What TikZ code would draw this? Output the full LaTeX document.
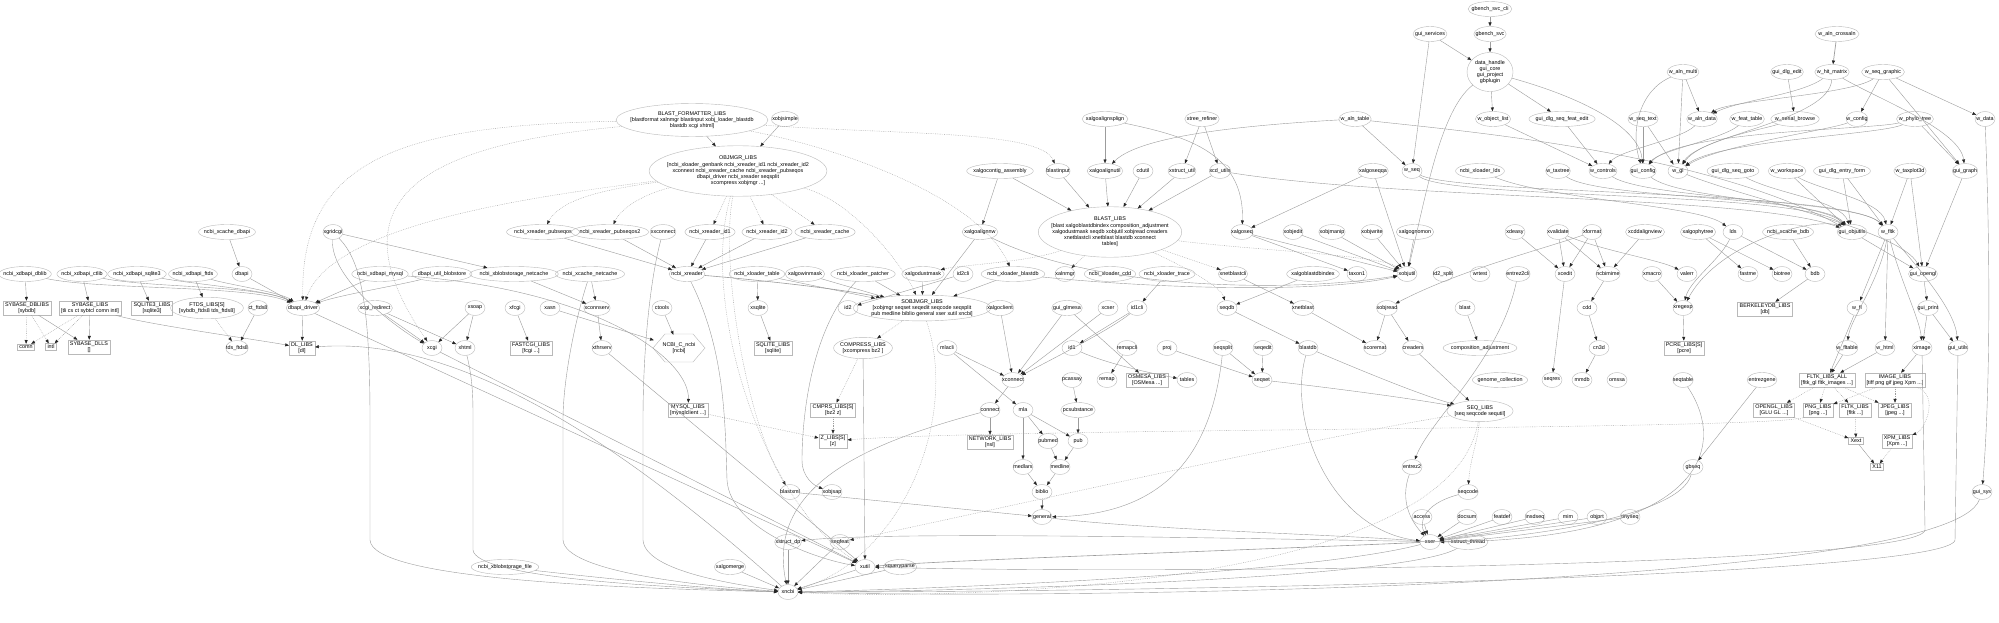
\documentclass[tikz,border=0pt]{standalone}
\usepackage{fontspec}
\setmainfont{Liberation Sans}
\usetikzlibrary{shapes.geometric,arrows.meta}
\begin{document}
\begin{tikzpicture}[x=1pt,y=-1pt,
  font=\fontsize{5.4}{6.2}\selectfont,
  ov/.style={ellipse,draw=gray!55,line width=0.4pt,inner xsep=-3pt,inner ysep=0pt,minimum height=15pt,minimum width=20pt},
  grp/.style={ellipse,draw=gray!55,line width=0.4pt,align=center,inner xsep=-2pt,inner ysep=2pt},
  bigg/.style={ellipse,draw=gray!55,line width=0.4pt,align=center,inner xsep=-8pt,inner ysep=3pt},
  bxx/.style={rectangle,draw=gray!55,line width=0.4pt,align=center,inner xsep=2pt,inner ysep=1.5pt},
  edg/.style={draw=gray!78,line width=0.4pt,-{Triangle[length=3.8pt,width=3pt,color=black!85]}},
  dte/.style={edg,dash pattern=on 0.7pt off 1.1pt},
]
\useasboundingbox[fill=white] (0,0) rectangle (1999,623);
% ---------- top ----------
\node[ov] (gsc) at (1490,9) {gbench\_svc\_cli};
\node[ov] (gsvc) at (1490,34) {gbench\_svc};
\node[ov] (gserv) at (1430,34) {gui\_services};
\node[grp,minimum width=46pt] (dh) at (1490,72) {data\_handle\\gui\_core\\gui\_project\\gbplugin};
\node[bigg] (bfl) at (692,120) {BLAST\_FORMATTER\_LIBS\\{}[blastformat xalnmgr blastinput xobj\_loader\_blastdb\\blastdb xcgi xhtml]};
\node[ov] (xos) at (785,119) {xobjsimple};
\node[bigg] (om) at (738,171) {OBJMGR\_LIBS\\{}[ncbi\_xloader\_genbank ncbi\_xreader\_id1 ncbi\_xreader\_id2\\xconnext ncbi\_xreader\_cache ncbi\_xreader\_pubseqos\\dbapi\_driver ncbi\_xreader seqsplit\\xcompress xobjmgr ...]};
\node[ov] (xaas) at (1105,119) {xalgoalignsplign};
\node[ov] (xtr) at (1202,119) {xtree\_refiner};
\node[ov] (walt) at (1355,119) {w\_aln\_table};
\node[ov] (wol) at (1493,119) {w\_object\_list};
\node[ov] (gdsfe) at (1562,119) {gui\_dlg\_seq\_feat\_edit};
\node[ov] (wac) at (1837,34) {w\_aln\_crossaln};
\node[ov] (wam) at (1683,72) {w\_aln\_multi};
\node[ov] (gde) at (1787,72) {gui\_dlg\_edit};
\node[ov] (whm) at (1832,72) {w\_hit\_matrix};
\node[ov] (wsg) at (1883,72) {w\_seq\_graphic};
\node[ov] (wst) at (1643,119) {w\_seq\_text};
\node[ov] (wad) at (1702,119) {w\_aln\_data};
\node[ov] (wft) at (1747,119) {w\_feat\_table};
\node[ov] (wsb) at (1795,119) {w\_serial\_browse};
\node[ov] (wcf) at (1857,119) {w\_config};
\node[ov] (wpt) at (1915,119) {w\_phylo\_tree};
\node[ov] (wdt) at (1985,119) {w\_data};
% ---------- row 171 ----------
\node[ov] (xaca) at (1000,171) {xalgocontig\_assembly};
\node[ov] (bin) at (1058,171) {blastinput};
\node[ov] (xaau) at (1105,171) {xalgoalignutil};
\node[ov] (cdu) at (1143,171) {cdutil};
\node[ov] (xsu) at (1182,171) {xstruct\_util};
\node[ov] (xcdu) at (1220,171) {xcd\_utils};
\node[ov] (xasq) at (1373,171) {xalgoseqqa};
\node[ov] (wseq) at (1412,171) {w\_seq};
\node[ov] (xll) at (1480,171) {ncbi\_xloader\_lds};
\node[ov] (wtt) at (1558,171) {w\_taxtree};
\node[ov] (wct) at (1603,171) {w\_controls};
\node[ov] (gcf) at (1643,171) {gui\_config};
\node[ov] (wgl) at (1678,171) {w\_gl};
\node[ov] (gdsg) at (1733,171) {gui\_dlg\_seq\_goto};
\node[ov] (wws) at (1787,171) {w\_workspace};
\node[ov] (gdef) at (1842,171) {gui\_dlg\_entry\_form};
\node[ov] (wtp) at (1910,171) {w\_taxplot3d};
\node[ov] (ggr) at (1965,171) {gui\_graph};
% ---------- row 232 ----------
\node[ov] (xcd) at (227,232) {ncbi\_xcache\_dbapi};
\node[ov] (xgc) at (333,232) {xgridcgi};
\node[ov] (xrp) at (543,232) {ncbi\_xreader\_pubseqos};
\node[ov] (xrp2) at (610,232) {ncbi\_xreader\_pubseqos2};
\node[ov] (xxc) at (663,232) {xxconnect};
\node[ov] (xri1) at (710,232) {ncbi\_xreader\_id1};
\node[ov] (xri2) at (767,232) {ncbi\_xreader\_id2};
\node[ov] (xrc) at (825,232) {ncbi\_xreader\_cache};
\node[ov] (xanw) at (980,232) {xalgoalignnw};
\node[bigg] (bl) at (1110,232) {BLAST\_LIBS\\{}[blast xalgoblastdbindex composition\_adjustment\\xalgodustmask seqdb xobjutil xobjread creaders\\xnetblastcli xnetblast blastdb xconnect\\tables]};
\node[ov] (xaseq) at (1242,232) {xalgoseq};
\node[ov] (xoe) at (1293,232) {xobjedit};
\node[ov] (xom) at (1332,232) {xobjmanip};
\node[ov] (xow) at (1372,232) {xobjwrite};
\node[ov] (xagn) at (1415,232) {xalgognomon};
\node[ov] (xdeasy) at (1515,232) {xdeasy};
\node[ov] (xval) at (1558,232) {xvalidate};
\node[ov] (xfmt) at (1592,232) {xformat};
\node[ov] (xaln) at (1645,232) {xcddalignview};
\node[ov] (xphy) at (1698,232) {xalgophytree};
\node[ov] (lds) at (1733,232) {lds};
\node[ov] (xcb) at (1788,232) {ncbi\_xcache\_bdb};
\node[ov] (gou) at (1852,232) {gui\_objutils};
\node[ov] (wfltk) at (1888,232) {w\_fltk};
% ---------- row 274 ----------
\node[ov] (dblib) at (25,274) {ncbi\_xdbapi\_dblib};
\node[ov] (ctlib) at (82,274) {ncbi\_xdbapi\_ctlib};
\node[ov] (sql3) at (137,274) {ncbi\_xdbapi\_sqlite3};
\node[ov] (ftds) at (193,274) {ncbi\_xdbapi\_ftds};
\node[ov] (dbapi) at (242,274) {dbapi};
\node[ov] (mysql) at (380,274) {ncbi\_xdbapi\_mysql};
\node[ov] (dub) at (442,274) {dbapi\_util\_blobstore};
\node[ov] (xbsn) at (514,274) {ncbi\_xblobstorage\_netcache};
\node[ov] (xcnc) at (590,274) {ncbi\_xcache\_netcache};
\node[ov] (xrd) at (687,274) {ncbi\_xreader};
\node[ov] (xlt) at (757,274) {ncbi\_xloader\_table};
\node[ov] (xawm) at (805,274) {xalgowinmask};
\node[ov] (xlp) at (863,274) {ncbi\_xloader\_patcher};
\node[ov] (xadm) at (923,274) {xalgodustmask};
\node[ov] (id2cli) at (963,274) {id2cli};
\node[ov] (xlb) at (1013,274) {ncbi\_xloader\_blastdb};
\node[ov] (xam) at (1065,274) {xalnmgr};
\node[ov] (xlc) at (1110,274) {ncbi\_xloader\_cdd};
\node[ov] (xltr) at (1167,274) {ncbi\_xloader\_trace};
\node[ov] (xnbc) at (1233,274) {xnetblastcli};
\node[ov] (xabi) at (1313,274) {xalgoblastdbindex};
\node[ov] (tax1) at (1357,274) {taxon1};
\node[ov] (xou) at (1407,274) {xobjutil};
\node[ov] (id2s) at (1443,274) {id2\_split};
\node[ov] (wrt) at (1480,274) {wrtest};
\node[ov] (e2c) at (1518,274) {entrez2cli};
\node[ov] (xcelit) at (1565,274) {xcedit};
\node[ov] (xdt) at (1608,274) {ncbimime};
\node[ov] (xmac) at (1652,274) {xmacro};
\node[ov] (valerr) at (1687,274) {valerr};
\node[ov] (fastme) at (1748,274) {fastme};
\node[ov] (biotree) at (1782,274) {biotree};
\node[ov] (bdb) at (1815,274) {bdb};
\node[ov] (gogl) at (1923,274) {gui\_opengl};
% ---------- row 308 ----------
\node[bxx] (sybd) at (27,308) {SYBASE\_DBLIBS\\{}[sybdb]};
\node[bxx] (sybl) at (90,308) {SYBASE\_LIBS\\{}[tli cs ct sybtcl comn intl]};
\node[bxx] (sq3l) at (152,308) {SQLITE3\_LIBS\\{}[sqlite3]};
\node[grp] (ftdsl) at (207,308) {FTDS\_LIBS[S]\\{}[sybdb\_ftds8 tds\_ftds8]};
\node[ov] (ctf8) at (258,308) {ct\_ftds8};
\node[ov] (dbd) at (303,308) {dbapi\_driver};
\node[ov] (xcr) at (375,308) {xcgi\_redirect};
\node[ov] (xsoap) at (475,308) {xsoap};
\node[ov] (xfcgi) at (515,308) {xfcgi};
\node[ov] (xasn) at (550,308) {xasn};
\node[ov] (xconnserv) at (597,308) {xconnserv};
\node[ov] (ctools) at (662,308) {ctools};
\node[ov] (xsqlite) at (758,308) {xsqlite};
\node[ov] (id2) at (848,308) {id2};
\node[grp,inner ysep=0.5pt] (som) at (922,308) {SOBJMGR\_LIBS\\{}[xobjmgr seqset seqedit seqcode seqsplit\\pub medline biblio general xser xutil xncbi]};
\node[ov] (xapient) at (1000,308) {xalgoclient};
\node[ov] (gglm) at (1067,308) {gui\_glmesa};
\node[ov] (xcser) at (1108,308) {xcser};
\node[ov] (id1cli) at (1137,308) {id1cli};
\node[ov] (seqdb) at (1227,308) {seqdb};
\node[ov] (xnb) at (1303,308) {xnetblast};
\node[ov] (xor) at (1387,308) {xobjread};
\node[ov] (blast) at (1465,308) {blast};
\node[ov] (cdd) at (1587,308) {cdd};
\node[ov] (xre) at (1683,308) {xregexp};
\node[bxx] (bdbl) at (1765,309) {BERKELEYDB\_LIBS\\{}[db]};
\node[ov] (wfl) at (1857,308) {w\_fl};
\node[ov] (gprint) at (1928,308) {gui\_print};
% ---------- row 348 ----------
\node[bxx] (comn) at (26,347) {comn};
\node[bxx] (intl) at (51,347) {intl};
\node[bxx] (sybdlls) at (89,347) {SYBASE\_DLLS\\{}[]};
\node[ov] (tdsf8) at (237,348) {tds\_ftds8};
\node[bxx] (dll) at (302,348) {DL\_LIBS\\{}[dl]};
\node[ov] (xcgi) at (432,348) {xcgi};
\node[ov] (xhtml) at (465,348) {xhtml};
\node[bxx] (fcgil) at (531,348) {FASTCGI\_LIBS\\{}[fcgi ...]};
\node[ov] (xthr) at (602,348) {xthrserv};
\node[align=center,inner sep=0pt,minimum width=50pt,minimum height=26pt] (ncbic) at (679,348) {NCBI\_C\_ncbi\\{}[ncbi]};
\draw[draw=gray!55,line width=0.4pt] (653,348) -- (665,334) -- (693,334) -- (705,348) -- (693,362) -- (665,362) -- cycle;
\node[bxx] (sqlitel) at (773,348) {SQLITE\_LIBS\\{}[sqlite]};
\node[grp] (compl) at (863,348) {COMPRESS\_LIBS\\{}[xcompress bz2 ]};
\node[ov] (mlacli) at (947,348) {mlacli};
\node[ov] (id1) at (1072,348) {id1};
\node[ov] (remapcli) at (1127,348) {remapcli};
\node[ov] (proj) at (1167,348) {proj};
\node[ov] (seqsplit) at (1223,348) {seqsplit};
\node[ov] (seqedit) at (1263,348) {seqedit};
\node[ov] (blastdb) at (1308,348) {blastdb};
\node[ov] (scoremat) at (1375,348) {scoremat};
\node[ov] (creaders) at (1413,348) {creaders};
\node[ov] (compadj) at (1480,348) {composition\_adjustment};
\node[ov] (cn3d) at (1599,348) {cn3d};
\node[bxx] (pcrel) at (1684,348) {PCRE\_LIBS[S]\\{}[pcre]};
\node[ov] (wflt) at (1847,348) {w\_fltable};
\node[ov] (whtml) at (1885,348) {w\_html};
\node[ov] (ximage) at (1922,348) {ximage};
\node[ov] (gutils) at (1958,348) {gui\_utils};
% ---------- row 380 ----------
\node[ov] (xconnect) at (1013,380) {xconnect};
\node[ov] (pcassay) at (1072,380) {pcassay};
\node[ov] (remap) at (1107,380) {remap};
\node[bxx] (osmesal) at (1147,380) {OSMESA\_LIBS\\{}[OSMesa ...]};
\node[ov] (tables) at (1187,380) {tables};
\node[ov] (seqset) at (1262,380) {seqset};
\node[ov] (gencoll) at (1500,380) {genome\_collection};
\node[ov] (seqres) at (1552,380) {seqres};
\node[ov] (mmdb) at (1582,380) {mmdb};
\node[ov] (omssa) at (1617,380) {omssa};
\node[ov] (seqtable) at (1683,380) {seqtable};
\node[ov] (entrezgene) at (1762,380) {entrezgene};
\node[bxx] (fltkall) at (1827,380) {FLTK\_LIBS\_ALL\\{}[fltk\_gl fltk\_images ...]};
\node[bxx] (imagel) at (1895,380) {IMAGE\_LIBS\\{}[tiff png gif jpeg Xpm ...]};
% ---------- row 410 ----------
\node[bxx] (mysqll) at (688,410) {MYSQL\_LIBS\\{}[mysqlclient ...]};
\node[bxx] (cmprsl) at (833,410) {CMPRS\_LIBS[S]\\{}[bz2 z]};
\node[ov] (connect) at (990,410) {connect};
\node[ov] (mla) at (1023,410) {mla};
\node[ov] (pcsub) at (1078,410) {pcsubstance};
\node[grp] (seql) at (1480,411) {SEQ\_LIBS\\{}[seq seqcode sequtil]};
\node[bxx] (openglL) at (1774,410) {OPENGL\_LIBS\\{}[GLU GL ...]};
\node[bxx] (pngl) at (1818,410) {PNG\_LIBS\\{}[png ...]};
\node[bxx] (fltkl) at (1855,410) {FLTK\_LIBS\\{}[fltk ...]};
\node[bxx] (jpegl) at (1895,410) {JPEG\_LIBS\\{}[jpeg ...]};
% ---------- row 441 ----------
\node[bxx] (zlibs) at (833,441) {Z\_LIBS[S]\\{}[z]};
\node[bxx] (netl) at (990,442) {NETWORK\_LIBS\\{}[nsl]};
\node[ov] (pubmed) at (1048,441) {pubmed};
\node[ov] (pub) at (1078,441) {pub};
\node[bxx] (xext) at (1856,441) {Xext};
\node[bxx] (xpml) at (1897,441) {XPM\_LIBS\\{}[Xpm ...]};
% ---------- row 467 ----------
\node[ov] (medlars) at (1023,467) {medlars};
\node[ov] (medline) at (1060,467) {medline};
\node[ov] (entrez2) at (1412,467) {entrez2};
\node[ov] (gbseq) at (1693,467) {gbseq};
\node[bxx] (x11) at (1877,467) {X11};
% ---------- row 492 ----------
\node[ov] (blastxml) at (790,492) {blastxml};
\node[ov] (xobjsap) at (832,492) {xobjsap};
\node[ov] (biblio) at (1042,492) {biblio};
\node[ov] (seqcode) at (1468,492) {seqcode};
\node[ov] (gsys) at (1982,492) {gui\_sys};
% ---------- row 517 ----------
\node[ov] (general) at (1042,517) {general};
\node[ov] (access) at (1422,517) {access};
\node[ov] (docsum) at (1467,517) {docsum};
\node[ov] (featdef) at (1502,517) {featdef};
\node[ov] (insdseq) at (1535,517) {insdseq};
\node[ov] (mim) at (1568,517) {mim};
\node[ov] (objprt) at (1597,517) {objprt};
\node[ov] (tinyseq) at (1630,517) {tinyseq};
% ---------- rows 542-592 ----------
\node[ov] (xsdp) at (788,542) {xstruct\_dp};
\node[ov] (seqfeat) at (840,542) {seqfeat};
\node[ov] (xser) at (1430,542) {xser};
\node[ov] (xsth) at (1468,542) {xstruct\_thread};
\node[ov] (xbsf) at (505,567) {ncbi\_xblobstorage\_file};
\node[ov] (xamerge) at (730,567) {xalgomerge};
\node[ov] (xutil) at (865,567) {xutil};
\node[ov] (xqp) at (900,567) {xqueryparse};
\node[ov] (xncbi) at (788,592) {xncbi};
% ================= edges =================
\draw[edg] (gsc) -- (gsvc);
\draw[edg] (gsvc) -- (dh);
\draw[edg] (gserv) -- (dh);
\draw[edg] (gserv) -- (wseq);
\draw[edg] (dh) -- (wol);
\draw[edg] (dh) -- (gdsfe);
\draw[edg] (dh) .. controls (1590,100) and (1640,130) .. (gcf);
\draw[edg] (dh) .. controls (1440,110) and (1425,200) .. (xou);
\draw[edg] (bfl) -- (om);
\draw[edg] (xos) -- (om);
\draw[dte] (bfl) .. controls (900,135) and (1040,130) .. (bin);
\draw[dte] (bfl) .. controls (400,125) and (300,160) .. (dbd);
\draw[dte] (bfl) .. controls (420,145) and (330,200) .. (xcgi);
\draw[dte] (om) .. controls (600,190) and (560,200) .. (xrp);
\draw[dte] (om) .. controls (640,195) and (620,210) .. (xrp2);
\draw[dte] (om) -- (xri1);
\draw[dte] (om) -- (xri2);
\draw[dte] (om) -- (xrc);
\draw[dte] (om) .. controls (500,200) and (330,230) .. (dbd);
\draw[dte] (om) .. controls (850,200) and (900,260) .. (som);
\draw[dte] (bfl) .. controls (850,150) and (980,200) .. (xlb);
\draw[dte] (om) .. controls (720,260) and (745,420) .. (blastxml);
\draw[dte] (om) .. controls (700,300) and (760,500) .. (xutil);
\draw[edg] (xaas) -- (xaau);
\draw[edg] (xaas) .. controls (1180,135) and (1245,150) .. (xaseq);
\draw[edg] (xtr) -- (xsu);
\draw[edg] (xtr) -- (xcdu);
\draw[edg] (walt) -- (wseq);
\draw[edg] (walt) .. controls (1250,125) and (1140,135) .. (xaau);
\draw[edg] (walt) .. controls (1450,130) and (1700,150) .. (gou);
\draw[edg] (xaca) -- (bl);
\draw[edg] (xaca) -- (xanw);
\draw[edg] (bin) -- (bl);
\draw[edg] (xaau) -- (bl);
\draw[edg] (cdu) -- (bl);
\draw[edg] (xsu) -- (bl);
\draw[edg] (xcdu) -- (bl);
\draw[edg] (xcdu) .. controls (1400,200) and (1750,195) .. (gou);
\draw[edg] (xasq) -- (xou);
\draw[edg] (xasq) -- (xaseq);
\draw[edg] (wseq) .. controls (1450,200) and (1800,190) .. (gou);
\draw[edg] (wseq) .. controls (1460,195) and (1850,190) .. (wfltk);
\draw[edg] (xll) .. controls (1550,200) and (1700,205) .. (lds);
\draw[edg] (wol) -- (wct);
\draw[edg] (gdsfe) -- (wct);
\draw[edg] (wst) -- (gcf);
\draw[edg] (wst) -- (wgl);
\draw[edg] (wam) -- (wad);
\draw[edg] (wam) -- (wgl);
\draw[edg] (wam) .. controls (1640,90) and (1630,130) .. (gcf);
\draw[edg] (wad) .. controls (1680,140) and (1620,150) .. (wct);
\draw[edg] (wft) .. controls (1720,140) and (1660,150) .. (gcf);
\draw[edg] (gde) -- (wsb);
\draw[edg,line width=0.7pt] (wac) -- (whm);
\draw[edg] (whm) .. controls (1800,95) and (1740,100) .. (wad);
\draw[edg] (whm) .. controls (1880,100) and (1960,130) .. (ggr);
\draw[edg] (whm) .. controls (1830,120) and (1700,135) .. (wgl);
\draw[edg] (wsg) -- (wcf);
\draw[edg] (wsg) -- (wdt);
\draw[edg] (wsg) -- (ggr);
\draw[edg] (wsg) .. controls (1850,95) and (1730,100) .. (wad);
\draw[edg] (wpt) -- (ggr);
\draw[edg] (wpt) .. controls (1880,135) and (1720,140) .. (wgl);
\draw[edg] (wpt) .. controls (1870,130) and (1680,130) .. (gcf);
\draw[edg] (wsb) .. controls (1760,130) and (1700,140) .. (wgl);
\draw[edg] (wcf) .. controls (1830,130) and (1720,145) .. (wgl);
\draw[edg] (wtt) .. controls (1600,200) and (1820,195) .. (gou);
\draw[edg] (wct) .. controls (1650,200) and (1860,200) .. (wfltk);
\draw[edg] (gcf) .. controls (1680,200) and (1820,200) .. (gou);
\draw[edg] (wgl) .. controls (1750,200) and (1900,230) .. (gogl);
\draw[edg] (gdsg) .. controls (1780,195) and (1840,200) .. (gou);
\draw[edg] (wws) .. controls (1820,190) and (1880,200) .. (wfltk);
\draw[edg] (wws) -- (gou);
\draw[edg] (gdef) -- (gou);
\draw[edg] (gdef) -- (wfltk);
\draw[edg] (wtp) -- (wfltk);
\draw[edg] (wtp) -- (gogl);
\draw[edg] (ggr) -- (gogl);
\draw[edg] (wdt) .. controls (1992,300) and (1988,420) .. (gsys);
\draw[edg] (wfltk) -- (wfl);
\draw[edg] (wfltk) .. controls (1880,280) and (1850,320) .. (wflt);
\draw[edg] (wfltk) -- (whtml);
\draw[edg] (wfltk) .. controls (1900,280) and (1920,320) .. (ximage);
\draw[edg] (wfltk) .. controls (1920,270) and (1955,310) .. (gutils);
\draw[edg] (gou) -- (gogl);
\draw[edg] (gou) .. controls (1820,215) and (1720,240) .. (xre);
\draw[edg] (gogl) -- (gprint);
\draw[edg] (gprint) -- (gutils);
\draw[edg] (gprint) -- (ximage);
\draw[edg] (wfl) -- (fltkall);
\draw[edg] (wflt) -- (fltkall);
\draw[edg] (whtml) -- (fltkall);
\draw[edg] (ximage) -- (imagel);
\draw[dte] (fltkall) -- (openglL);
\draw[dte] (fltkall) -- (pngl);
\draw[dte] (fltkall) -- (fltkl);
\draw[dte] (fltkall) -- (jpegl);
\draw[dte] (imagel) -- (jpegl);
\draw[dte] (imagel) -- (pngl);
\draw[dte] (imagel) .. controls (1940,395) and (1925,430) .. (xpml);
\draw[dte] (fltkl) -- (xext);
\draw[dte] (openglL) -- (xext);
\draw[edg] (xext) -- (x11);
\draw[dte] (xpml) -- (x11);
\draw[dte] (pngl) .. controls (1780,430) and (1000,428) .. (zlibs);
% middle right
\draw[edg] (xcb) -- (bdb);
\draw[edg] (lds) -- (bdb);
\draw[edg] (lds) .. controls (1720,260) and (1690,280) .. (xre);
\draw[edg] (bdb) -- (bdbl);
\draw[edg] (xre) -- (pcrel);
\draw[edg] (xphy) -- (fastme);
\draw[edg] (xphy) -- (biotree);
\draw[edg] (xdeasy) -- (xcelit);
\draw[edg] (xval) -- (xcelit);
\draw[edg] (xval) -- (xdt);
\draw[edg] (xval) .. controls (1600,250) and (1660,260) .. (valerr);
\draw[edg] (xfmt) -- (xcelit);
\draw[edg] (xfmt) -- (xdt);
\draw[edg] (xaln) -- (xdt);
\draw[edg] (xfmt) .. controls (1540,250) and (1460,270) .. (xor);
\draw[edg] (xdt) -- (cdd);
\draw[edg] (cdd) -- (cn3d);
\draw[edg] (cn3d) -- (mmdb);
\draw[edg] (xcelit) -- (seqres);
\draw[edg] (xmac) -- (xre);
\draw[edg] (e2c) .. controls (1500,360) and (1430,420) .. (entrez2);
% blast region
\draw[dte] (bl) -- (xnbc);
\draw[dte] (bl) -- (xam);
\draw[dte] (bl) .. controls (1030,262) and (960,265) .. (xadm);
\draw[dte] (bl) .. controls (1180,265) and (1220,285) .. (seqdb);
\draw[dte] (bl) .. controls (1250,250) and (1380,255) .. (xou);
\draw[edg] (xanw) .. controls (1100,292) and (1300,292) .. (xou);
\draw[edg] (xlb) .. controls (1150,288) and (1320,294) .. (xou);
\draw[edg] (xaseq) -- (tax1);
\draw[edg] (xaseq) -- (xou);
\draw[edg] (xoe) -- (xou);
\draw[edg] (xom) -- (xou);
\draw[edg] (xow) -- (xou);
\draw[edg] (xagn) -- (xou);
\draw[edg] (xnbc) -- (xnb);
\draw[edg] (xabi) -- (seqdb);
\draw[edg] (xltr) -- (id1cli);
\draw[edg] (seqdb) -- (blastdb);
\draw[edg] (xnb) -- (scoremat);
\draw[edg] (xor) -- (scoremat);
\draw[edg] (xor) -- (creaders);
\draw[edg] (blast) -- (compadj);
\draw[edg] (id1cli) -- (id1);
\draw[edg] (id1cli) .. controls (1110,330) and (1050,360) .. (xconnect);
\draw[edg] (gglm) -- (osmesal);
\draw[edg] (gglm) -- (xconnect);
\draw[edg] (xcser) -- (xconnect);
\draw[edg] (xapient) -- (xconnect);
\draw[edg] (remapcli) -- (remap);
\draw[edg] (id1) .. controls (1110,365) and (1160,375) .. (tables);
\draw[edg] (proj) -- (seqset);
\draw[edg] (seqsplit) -- (seqset);
\draw[edg] (seqedit) -- (seqset);
\draw[edg] (seqset) .. controls (1350,390) and (1420,400) .. (seql);
\draw[edg] (blastdb) .. controls (1360,370) and (1420,395) .. (seql);
\draw[edg] (creaders) -- (seql);
\draw[edg] (pcassay) -- (pcsub);
\draw[edg] (mla) -- (pubmed);
\draw[edg] (mla) -- (pub);
\draw[edg] (mla) -- (medlars);
\draw[edg] (pcsub) -- (pub);
\draw[edg] (pubmed) -- (medline);
\draw[edg] (pub) -- (medline);
\draw[edg] (medlars) -- (biblio);
\draw[edg] (medline) -- (biblio);
\draw[edg] (biblio) -- (general);
\draw[edg] (general) .. controls (1150,530) and (1350,535) .. (xser);
\draw[dte] (seql) .. controls (1478,440) and (1470,460) .. (seqcode);
\draw[edg] (seqcode) .. controls (1420,505) and (1420,525) .. (xser);
\draw[edg] (entrez2) .. controls (1400,500) and (1410,520) .. (xser);
\draw[edg] (access) -- (xser);
\draw[edg] (docsum) -- (xser);
\draw[edg] (featdef) -- (xser);
\draw[edg] (insdseq) -- (xser);
\draw[edg] (mim) -- (xser);
\draw[edg] (objprt) -- (xser);
\draw[edg] (tinyseq) -- (xser);
\draw[edg] (gbseq) .. controls (1680,520) and (1500,540) .. (xser);
\draw[edg] (seqtable) .. controls (1730,450) and (1700,540) .. (xser);
\draw[edg] (entrezgene) -- (gbseq);
\draw[edg] (blastdb) .. controls (1287,420) and (1330,530) .. (xser);
\draw[edg] (seqsplit) .. controls (1210,470) and (1150,515) .. (general);
\draw[edg] (blastxml) -- (general);
% left
\draw[edg] (xcd) -- (dbapi);
\draw[edg] (dblib) -- (sybd);
\draw[edg] (ctlib) -- (sybl);
\draw[edg] (sql3) -- (sq3l);
\draw[edg] (ftds) -- (ftdsl);
\draw[edg] (dblib) .. controls (100,290) and (250,285) .. (dbd);
\draw[edg] (ctlib) .. controls (150,288) and (260,285) .. (dbd);
\draw[edg] (sql3) .. controls (200,285) and (270,290) .. (dbd);
\draw[edg] (ftds) .. controls (230,285) and (280,292) .. (dbd);
\draw[edg] (dbapi) -- (dbd);
\draw[edg] (mysql) -- (dbd);
\draw[edg] (dub) .. controls (400,285) and (340,295) .. (dbd);
\draw[dte] (sybd) -- (comn);
\draw[dte] (sybd) -- (intl);
\draw[edg] (sybd) -- (sybdlls);
\draw[dte] (sybl) -- (comn);
\draw[dte] (sybl) -- (intl);
\draw[edg] (sybl) -- (sybdlls);
\draw[edg] (sybl) .. controls (150,325) and (260,340) .. (dll);
\draw[dte] (ftdsl) -- (tdsf8);
\draw[edg] (ctf8) -- (tdsf8);
\draw[edg] (dbd) -- (dll);
\draw[edg] (xcr) -- (xcgi);
\draw[edg] (xcr) -- (xhtml);
\draw[edg] (xsoap) -- (xcgi);
\draw[edg] (xsoap) -- (xhtml);
\draw[edg] (xgc) .. controls (330,280) and (400,330) .. (xcgi);
\draw[edg] (xgc) -- (xbsn);
\draw[edg] (xgc) .. controls (360,260) and (370,300) .. (370,420) -- (370,540) .. controls (372,578) and (600,588) .. (xncbi);
\draw[edg] (xhtml) .. controls (473,380) and (473,400) .. (473,420) -- (473,550) .. controls (476,577) and (650,587) .. (xncbi);
\draw[edg] (xcnc) .. controls (575,320) and (563,380) .. (563,420) -- (563,540) .. controls (565,572) and (700,586) .. (xncbi);
\draw[edg] (xxc) .. controls (650,280) and (643,350) .. (643,420) -- (643,540) .. controls (645,572) and (740,585) .. (xncbi);
\draw[edg] (xbsf) .. controls (600,578) and (720,590) .. (xncbi);
\draw[edg] (xamerge) -- (xncbi);
\draw[edg] (xsdp) -- (xncbi);
\draw[edg] (seqfeat) -- (xncbi);
\draw[edg] (xutil) -- (xncbi);
\draw[edg] (xqp) -- (xncbi);
\draw[edg] (xncbi) .. controls (640,460) and (470,335) .. (dll);
\draw[edg] (dbd) -- (xutil);
\draw[edg] (xcgi) -- (xutil);
\draw[edg] (xthr) -- (xutil);
\draw[edg] (xbsn) -- (xconnserv);
\draw[edg] (xcnc) -- (xconnserv);
\draw[edg] (xconnserv) -- (xthr);
\draw[edg] (xfcgi) -- (fcgil);
\draw[edg] (xasn) -- (ncbic);
\draw[edg] (ctools) -- (ncbic);
\draw[edg] (xsqlite) -- (sqlitel);
\draw[edg] (mysql) .. controls (600,290) and (690,360) .. (mysqll);
\draw[dte] (mysqll) -- (zlibs);
\draw[dte] (compl) -- (cmprsl);
\draw[dte] (cmprsl) -- (zlibs);
\draw[edg] (compl) -- (xutil);
\draw[edg] (connect) -- (netl);
\draw[edg] (xconnect) -- (connect);
\draw[edg] (mlacli) -- (mla);
\draw[edg] (mlacli) -- (xconnect);
\draw[edg] (connect) .. controls (880,440) and (765,480) .. (xncbi);
\draw[edg] (xrp) -- (xrd);
\draw[edg] (xrp2) -- (xrd);
\draw[edg] (xri1) -- (xrd);
\draw[edg] (xri2) -- (xrd);
\draw[edg] (xrc) -- (xrd);
\draw[edg,line width=0.6pt] (xrd) .. controls (760,280) and (850,290) .. (som);
\draw[edg] (xlt) -- (xsqlite);
\draw[edg] (xlt) -- (som);
\draw[edg] (xawm) -- (som);
\draw[edg] (xlp) -- (som);
\draw[edg] (xadm) -- (som);
\draw[edg] (xlb) -- (som);
\draw[edg] (id2cli) -- (id2);
\draw[edg] (xanw) -- (som);
\draw[dte] (som) -- (compl);
\draw[dte] (som) .. controls (960,420) and (900,560) .. (xncbi);
\draw[edg] (xrd) .. controls (725,350) and (725,420) .. (727,480) .. controls (730,530) and (820,560) .. (xutil);
\draw[edg] (xlp) .. controls (810,330) and (802,420) .. (802,460) .. controls (802,478) and (815,486) .. (xobjsap);
\draw[edg] (xsth) .. controls (1300,540) and (900,530) .. (xsdp);
\draw[dte] (seql) .. controls (1300,440) and (950,520) .. (seqfeat);
\draw[dte] (seql) .. controls (1450,590) and (950,600) .. (xncbi);
\draw[edg,line width=0.6pt] (xser) .. controls (1200,552) and (950,560) .. (xutil);
\draw[edg] (gsys) .. controls (1950,585) and (1100,600) .. (xncbi);
\draw[edg] (gutils) -- (1955,540) .. controls (1950,575) and (1200,592) .. (xncbi);
\draw[edg] (ximage) -- (1925,530) .. controls (1920,565) and (1200,575) .. (xutil);
\draw[edg] (xsth) .. controls (1400,582) and (900,592) .. (xncbi);
\draw[edg] (xser) .. controls (1300,576) and (900,590) .. (xncbi);
\end{tikzpicture}
\end{document}
